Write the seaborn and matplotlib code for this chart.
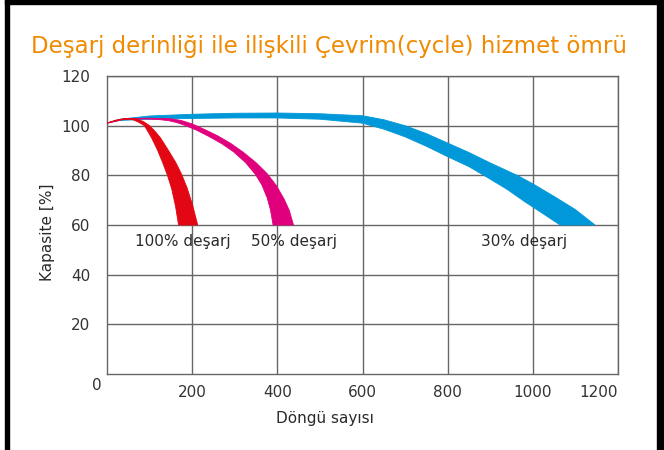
import matplotlib
matplotlib.use("Agg")
import matplotlib.pyplot as plt
import seaborn as sns
from matplotlib.patches import Rectangle

# values
x_ticks = [200, 400, 600, 800, 1000, 1200]
x_tick_labels = ['200', '400', '600', '800', '1000', '']
y_ticks = [20, 40, 60, 80, 100, 120]

# 100% discharge band: outer edge and inner edge (cycles, capacity %)
red_out_x = [0, 20, 40, 68, 85, 100, 114, 126, 137, 148, 162, 175, 188, 201, 213]
red_out_y = [101, 102.2, 102.8, 102.8, 101.7, 100, 97.5, 95, 92, 89, 85, 80.5, 75, 68, 60]
red_in_x = [0, 20, 40, 56, 72, 88, 105, 119, 131, 142, 152, 161, 168]
red_in_y = [101, 102, 102.6, 102.7, 101.6, 100, 95, 90, 85, 80, 74.5, 67.5, 60]

# 50% discharge band
mag_out_x = [0, 40, 100, 150, 175, 200, 230, 260, 290, 320, 350, 376, 398, 416, 428, 438]
mag_out_y = [101, 102.8, 103, 102.8, 102.05, 100.7, 98.4, 95.9, 92.9, 89.3, 85.1,
             80.7, 75.8, 70.4, 65.9, 60]
mag_in_x = [0, 40, 90, 120, 145, 165, 185, 210, 240, 270, 297, 325, 349, 364, 376, 384, 390]
mag_in_y = [101, 102.5, 102.7, 102.5, 102, 101.2, 100, 98.2, 95.6, 92.7, 89.5, 85.2,
            80.3, 76, 71, 66, 60]

# 30% discharge band
blu_out_x = [0, 30, 100, 200, 300, 400, 500, 600, 650, 700, 750, 800,
             850, 900, 963, 1000, 1050, 1100, 1146]
blu_out_y = [101, 102.6, 103.9, 104.6, 105, 105.1, 104.8, 104, 102.4, 100,
             96.8, 93, 89.2, 85, 80, 76.6, 71.5, 66.2, 60]
blu_in_x = [0, 30, 100, 200, 300, 400, 500, 600, 650, 700, 750, 800,
            850, 890, 940, 980, 1020, 1064]
blu_in_y = [101, 102.1, 102.6, 102.9, 103.1, 103.1, 102.6, 101, 98.6, 95.5,
            91.7, 87.5, 83.5, 79.5, 74.3, 69.5, 65, 60]

labels = ['100% deşarj', '50% deşarj', '30% deşarj']
label_x = [178, 440, 980]
label_y = 53.5

colors = ['#E30613', '#E0007D', '#0098D8']
title_color = '#F08A00'
grid_color = '#666666'
text_color = '#2a2a2a'

sns.set_style('white')
plt.rcParams['font.family'] = ['DejaVu Sans']

fig = plt.figure(figsize=(6.64, 4.5), dpi=100)
ax = fig.add_axes([107 / 664, 1 - 374 / 450, 511 / 664, 298 / 450])

bands = [(red_out_x, red_out_y, red_in_x, red_in_y),
         (mag_out_x, mag_out_y, mag_in_x, mag_in_y),
         (blu_out_x, blu_out_y, blu_in_x, blu_in_y)]
for (ox, oy, ix, iy), c in zip(reversed(bands), reversed(colors)):
    px = ox + ix[::-1]
    py = oy + iy[::-1]
    ax.fill(px, py, color=c, lw=0.6, ec=c, zorder=3)

ax.set_xlim(0, 1200)
ax.set_ylim(0, 120)
ax.set_xticks(x_ticks, x_tick_labels)
ax.set_yticks(y_ticks)
ax.grid(True, color=grid_color, lw=1.0)
ax.set_axisbelow(True)
for s in ax.spines.values():
    s.set_color(grid_color)
    s.set_linewidth(1.0)
ax.tick_params(axis='both', length=0, labelsize=11, labelcolor='#333333')
ax.tick_params(axis='y', pad=12)
ax.tick_params(axis='x', pad=8)

# corner "0" and right-aligned "1200"
ax.annotate('0', xy=(0, 0), xytext=(-7.2, -8), textcoords='offset points',
            ha='center', va='center', fontsize=11, color='#333333')
ax.annotate('1200', xy=(x_ticks[-1], 0), xytext=(0, -7.6), textcoords='offset points',
            ha='right', va='top', fontsize=11, color='#333333')

for t, lx in zip(labels, label_x):
    ax.text(lx, label_y, t, ha='center', va='center', fontsize=11,
            color=text_color, zorder=4)

ax.set_xlabel('Döngü sayısı', fontsize=11, color=text_color, labelpad=8)
ax.xaxis.label.set_x((325 - 107) / 511)
ax.set_ylabel('Kapasite [%]', fontsize=11, color=text_color, labelpad=5)
ax.yaxis.label.set_y((374 - 232) / 298)

fig.text(329 / 664, 1 - 47 / 450, 'Deşarj derinliği ile ilişkili Çevrim(cycle) hizmet ömrü',
         ha='center', va='center', fontsize=16.5, color=title_color)

# black frame bars around the picture (left, right, top)
for x0, y0, w, h in [(5, 0, 4, 450), (657, 0, 7, 450), (5, 0, 659, 4)]:
    fig.patches.append(Rectangle((x0 / 664, 1 - (y0 + h) / 450), w / 664, h / 450,
                                 transform=fig.transFigure, color='black', zorder=10))

fig.savefig('out.png', dpi=100, facecolor='white')
